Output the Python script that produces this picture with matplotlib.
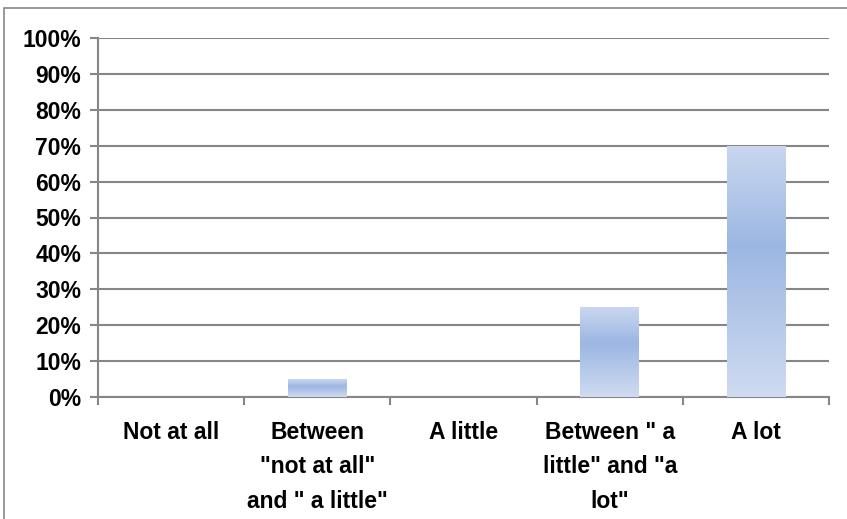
import numpy as np
import matplotlib.pyplot as plt
from matplotlib.colors import LinearSegmentedColormap
from matplotlib.patches import Rectangle
from matplotlib.ticker import PercentFormatter, FixedLocator

categories = ['Not at all', 'Between\n"not at all"\nand " a little"', 'A little',
              'Between " a\nlittle" and "a\nlot"', 'A lot']
values = [0, 5, 0, 25, 70]

plt.rcParams['font.family'] = ['Liberation Sans', 'DejaVu Sans']
plt.rcParams['font.weight'] = 'bold'

grid_color = '#868686'
bar_cmap = LinearSegmentedColormap.from_list(
    'xl', [(0.0, '#cfdbf0'), (0.6, '#9cb7e3'), (1.0, '#c9d7ee')])

fig = plt.figure(figsize=(8.47, 5.19), dpi=100)
fig.patches.append(Rectangle((4 / 847, -0.1), 1.2, 1.1 - 8 / 519,
                             transform=fig.transFigure, fill=False,
                             edgecolor='#878787', linewidth=1.2))

ax = fig.add_axes([98 / 847, 1 - 397 / 519, 731 / 847, 359 / 519])

index = np.arange(len(values))
bars = ax.bar(index, values, 0.4, color='none', zorder=3)

# excel style vertical gradient inside each bar
grad = np.linspace(0, 1, 256).reshape(-1, 1)
for b in bars:
    if b.get_height() <= 0:
        continue
    im = ax.imshow(grad, cmap=bar_cmap, origin='lower', aspect='auto',
                   extent=[b.get_x(), b.get_x() + b.get_width(), 0, b.get_height()],
                   zorder=3)
    im.set_clip_path(b)

ax.set_xlim(-0.5, len(values) - 0.5)
ax.set_ylim(0, 100)
ax.set_yticks(np.arange(0, 101, 10))
ax.yaxis.set_major_formatter(PercentFormatter(decimals=0))
ax.yaxis.grid(True, color=grid_color, linewidth=1.5, zorder=0)
ax.set_axisbelow(True)

ax.set_xticks(index)
ax.set_xticklabels(categories, linespacing=1.64, va='top')
ax.xaxis.set_minor_locator(FixedLocator(np.arange(-0.5, len(values), 1)))
ax.tick_params(axis='x', which='major', length=0, pad=17, labelsize=16.5)
ax.tick_params(axis='x', which='minor', length=6, width=1.5, color=grid_color,
               direction='out')
ax.tick_params(axis='y', length=6, width=1.5, color=grid_color, labelsize=16.5,
               pad=6)

for s in ['top', 'right']:
    ax.spines[s].set_visible(False)
for s in ['left', 'bottom']:
    ax.spines[s].set_color(grid_color)
    ax.spines[s].set_linewidth(1.5)

fig.savefig('out.png', dpi=100)
